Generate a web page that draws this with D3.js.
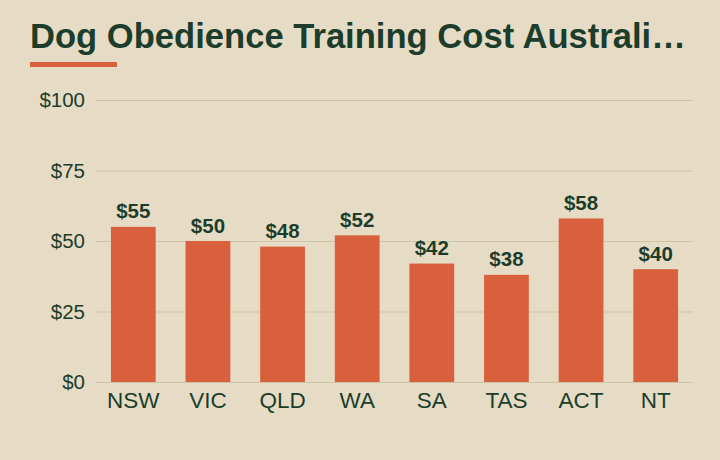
<!DOCTYPE html>
<html><head><meta charset="utf-8">
<script src="https://cdn.jsdelivr.net/npm/d3@7"></script>
<style>html,body{margin:0;padding:0;background:#e6dcc5;}svg{display:block;}</style>
</head><body>
<svg id="c" width="720" height="460"></svg>
<script>
const categories = ["NSW","VIC","QLD","WA","SA","TAS","ACT","NT"];
const values = [55,50,48,52,42,38,58,40];
const yTicks = [0,25,50,75,100];
const title = "Dog Obedience Training Cost Australi…";

const W = 720, H = 460;
const m = {left:96, right:27, top:100, bottom:78};
const svg = d3.select("#c");
svg.append("rect").attr("width",W).attr("height",H).attr("fill","#e6dcc5");
const ink = "#1c3d2b";
const bar = "#d9603c";
const font = "'Liberation Sans', Arial, sans-serif";

svg.append("text").attr("x",30).attr("y",48).attr("fill",ink)
  .attr("font-family",font).attr("font-weight","bold").attr("font-size",34.6)
  .text(title);
svg.append("rect").attr("x",30).attr("y",62).attr("width",87).attr("height",5).attr("fill",bar);

const x = d3.scaleBand().domain(categories).range([m.left, W-m.right]).paddingInner(0.4).paddingOuter(0.2);
const y = d3.scaleLinear().domain([0,100]).range([H-m.bottom, m.top]);

const yAxis = svg.append("g").attr("transform",`translate(${m.left},0)`)
  .call(d3.axisLeft(y).tickValues(yTicks).tickFormat(d=>"$"+d).tickSize(-(W-m.left-m.right)).tickPadding(11));
yAxis.select(".domain").remove();
yAxis.selectAll(".tick line").attr("stroke","#cfc3a6").attr("stroke-width",1);
yAxis.selectAll(".tick text").attr("fill",ink).attr("font-family",font).attr("font-size",20.5);

svg.append("g").selectAll("rect").data(values).join("rect")
  .attr("x",(d,i)=>x(categories[i])).attr("width",x.bandwidth())
  .attr("y",d=>y(d)).attr("height",d=>y(0)-y(d)).attr("fill",bar);

svg.append("g").selectAll("text").data(values).join("text")
  .attr("x",(d,i)=>x(categories[i])+x.bandwidth()/2).attr("y",d=>y(d)-8.5)
  .attr("text-anchor","middle").attr("fill",ink).attr("font-family",font)
  .attr("font-weight","bold").attr("font-size",20.5).text(d=>"$"+d);

const xAxis = svg.append("g").attr("transform",`translate(0,${y(0)})`)
  .call(d3.axisBottom(x).tickSize(0).tickPadding(10));
xAxis.select(".domain").remove();
xAxis.selectAll(".tick text").attr("fill",ink).attr("font-family",font).attr("font-size",22.5);
</script>
</body></html>
